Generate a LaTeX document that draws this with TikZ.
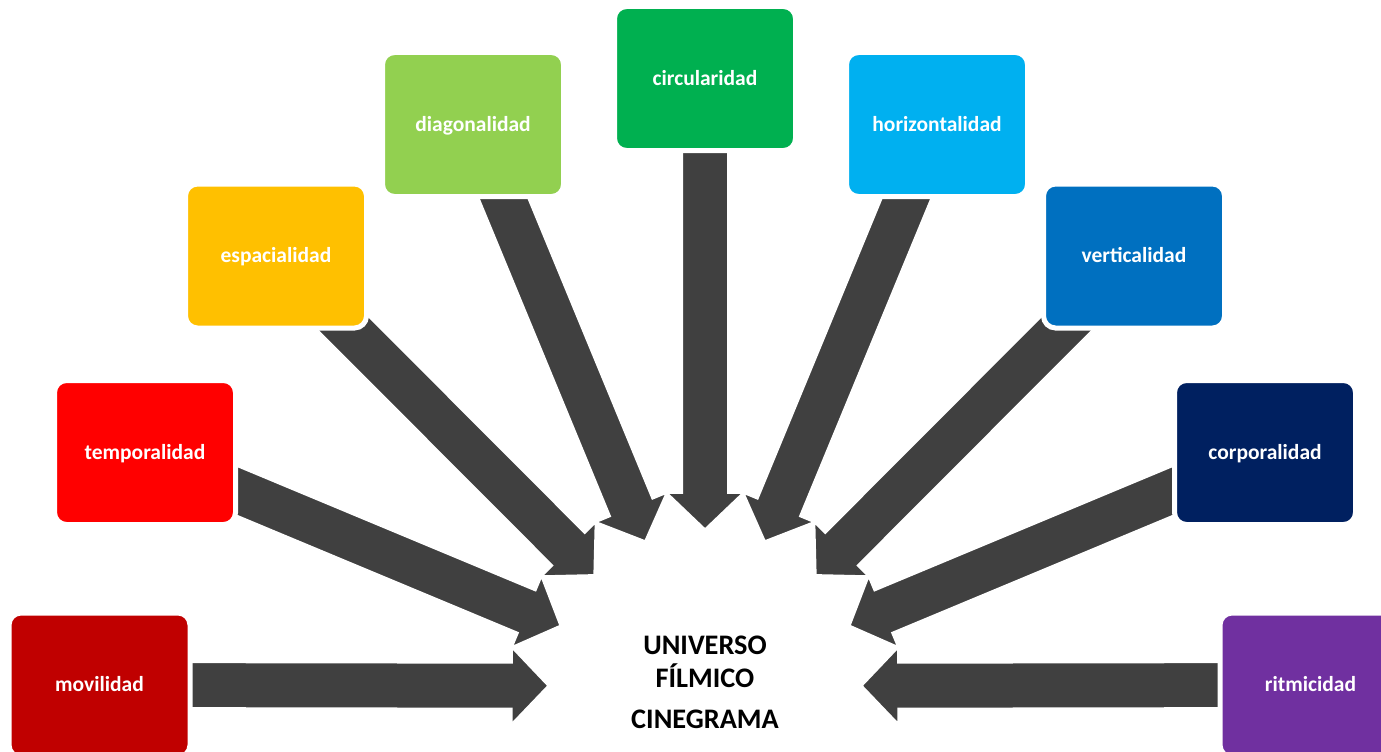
\documentclass[tikz,border=0pt]{standalone}
\usepackage{fontspec}
\setmainfont{Carlito}
\usetikzlibrary{calc}

\definecolor{arrowgray}{HTML}{404040}
\definecolor{cMovilidad}{HTML}{C00000}
\definecolor{cTemporalidad}{HTML}{FF0000}
\definecolor{cEspacialidad}{HTML}{FFC000}
\definecolor{cDiagonalidad}{HTML}{92D050}
\definecolor{cCircularidad}{HTML}{00B050}
\definecolor{cHorizontalidad}{HTML}{00B0F0}
\definecolor{cVerticalidad}{HTML}{0070C0}
\definecolor{cCorporalidad}{HTML}{002060}
\definecolor{cRitmicidad}{HTML}{7030A0}

\pgfdeclarelayer{arrows}
\pgfsetlayers{arrows,main}

% Block arrow from the centre of a box towards the hub circle:
% the tail is hidden under the box, the tip touches the hub's rim.
\newcommand\flowarrow[1]{%
  \path ($(hub.center)!157pt!(#1.center)$) coordinate (#1-tip)
        ($(#1-tip)!36pt!(#1.center)$) coordinate (#1-neck);
  \draw[blockarrow]
    ($(#1.center)!22.75pt!-90:(#1-neck)$)
    -- ($(#1-neck)!22.75pt!90:(#1.center)$)
    -- ($(#1-neck)!37.75pt!90:(#1.center)$)
    -- (#1-tip)
    -- ($(#1-neck)!37.75pt!-90:(#1.center)$)
    -- ($(#1-neck)!22.75pt!-90:(#1.center)$)
    -- ($(#1.center)!22.75pt!90:(#1-neck)$)
    -- cycle;}

\begin{document}
\begin{tikzpicture}[x=1pt,y=-1pt,
  box/.style={rectangle, rounded corners=12pt, draw=white, line width=5pt,
    minimum width=181pt, minimum height=144pt, inner sep=0pt,
    text=white, font=\fontsize{21.5}{25}\selectfont\bfseries,
    text height=14.5pt, text depth=1pt},
  blockarrow/.style={fill=arrowgray, draw=white, line width=1.5pt},
  title/.style={anchor=base, text=black,
    font=\fontsize{28.3}{34}\selectfont\bfseries}]

\useasboundingbox (0,0) rectangle (1381,752);

% hub the arrows point at
\node[circle, minimum size=314pt, inner sep=0pt] (hub) at (705,686) {};

% coloured boxes with their white rim
\node[box, fill=cMovilidad]      (movilidad)      at (99.5,685)   {movilidad};
\node[box, fill=cTemporalidad]   (temporalidad)   at (145,452.5)  {temporalidad};
\node[box, fill=cEspacialidad]   (espacialidad)   at (276,256)    {espacialidad};
\node[box, fill=cDiagonalidad]   (diagonalidad)   at (473,124.5)  {diagonalidad};
\node[box, fill=cCircularidad]   (circularidad)   at (705,78.5)   {circularidad};
\node[box, fill=cHorizontalidad] (horizontalidad) at (937,124.5)  {horizontalidad};
\node[box, fill=cVerticalidad]   (verticalidad)   at (1134,256)   {verticalidad};
\node[box, fill=cCorporalidad]   (corporalidad)   at (1265,452.5) {corporalidad};
\node[box, fill=cRitmicidad]     (ritmicidad)     at (1310.5,685) {ritmicidad};

% arrows go underneath the boxes
\begin{pgfonlayer}{arrows}
\flowarrow{movilidad}
\flowarrow{ritmicidad}
\flowarrow{temporalidad}
\flowarrow{corporalidad}
\flowarrow{espacialidad}
\flowarrow{verticalidad}
\flowarrow{diagonalidad}
\flowarrow{horizontalidad}
\flowarrow{circularidad}
\end{pgfonlayer}

% central caption
\node[title] (t1) at (705,654) {UNIVERSO};
\node[title] (t2) at (705,687) {FÍLMICO};
\node[title] (t3) at (705,728) {CINEGRAMA};
\end{tikzpicture}
\end{document}
